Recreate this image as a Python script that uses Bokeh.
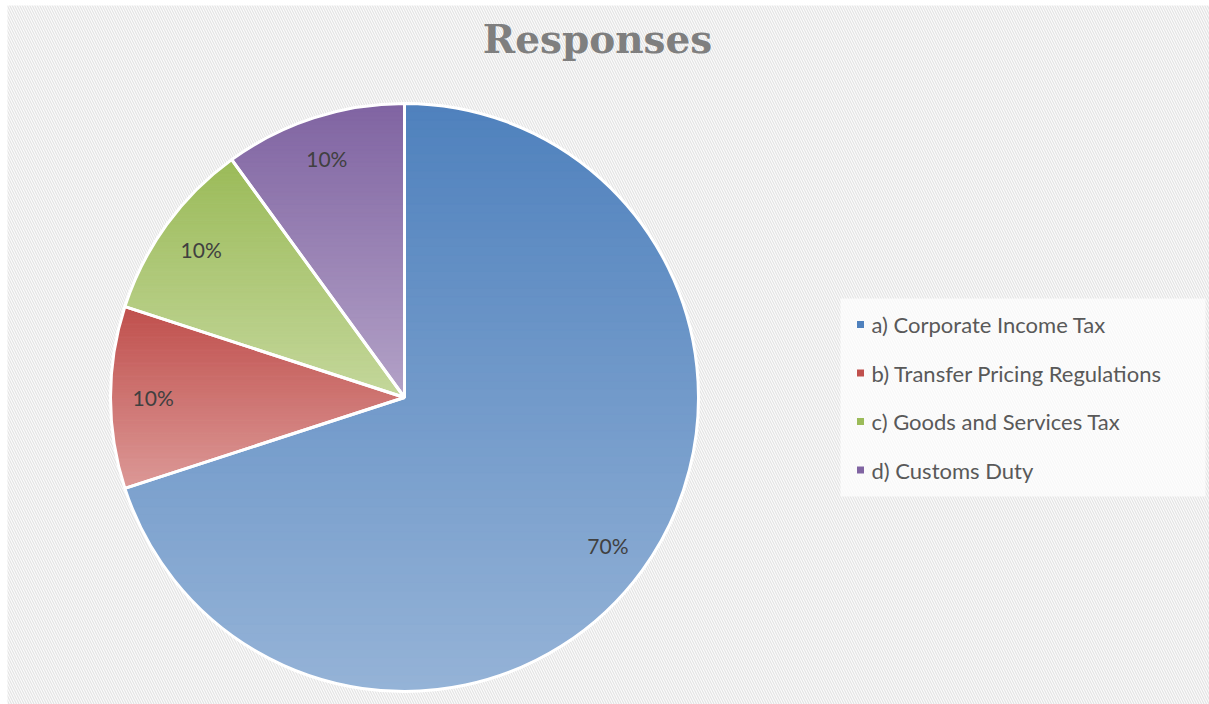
import math
from bokeh.plotting import figure
from bokeh.models import Range1d
from bokeh.core.properties import value
from bokeh.embed import file_html
from bokeh.resources import INLINE

# ---- data ----
categories = ["a) Corporate Income Tax", "b) Transfer Pricing Regulations",
              "c) Goods and Services Tax", "d) Customs Duty"]
shares = [70, 10, 10, 10]
pct_labels = ["70%", "10%", "10%", "10%"]
title_text = "Responses"

# ---- styles ----
top_colors = ["#4f81bd", "#c0504d", "#9bbb59", "#8064a2"]
bot_colors = ["#95b3d7", "#dc9997", "#c4d79b", "#b3a2c7"]
legend_colors = ["#4f81bd", "#c0504d", "#9bbb59", "#8064a2"]

W, H = 1209, 704
p = figure(width=W, height=H, output_backend="svg", toolbar_location=None,
           x_range=Range1d(0, W), y_range=Range1d(0, H), min_border=0)
p.axis.visible = False
p.grid.visible = False
p.outline_line_color = None
p.background_fill_color = "white"
p.border_fill_color = "white"

# hatched chart area
p.quad(left=[7], right=[W], top=[H - 5], bottom=[0], fill_color="#fbfbfb",
       line_color=None, hatch_pattern="left_diagonal_line", hatch_color="#e3e3e3",
       hatch_scale=5, hatch_weight=1.1)

cx, cy, R = 404, H - 397, 294


def hex2rgb(h):
    h = h.lstrip("#")
    return tuple(int(h[i:i + 2], 16) for i in (0, 2, 4))


def mix(c1, c2, t):
    a, b = hex2rgb(c1), hex2rgb(c2)
    return "#%02x%02x%02x" % tuple(int(round(a[i] + (b[i] - a[i]) * t)) for i in range(3))


def clip_poly(poly, y0, y1):
    def clip(pts, keep, inter):
        out = []
        n = len(pts)
        for i in range(n):
            cur, prv = pts[i], pts[i - 1]
            if keep(cur):
                if not keep(prv):
                    out.append(inter(prv, cur))
                out.append(cur)
            elif keep(prv):
                out.append(inter(prv, cur))
        return out

    def ix(yc):
        def f(a, b):
            t = (yc - a[1]) / (b[1] - a[1])
            return (a[0] + t * (b[0] - a[0]), yc)
        return f
    pts = clip(poly, lambda q: q[1] >= y0, ix(y0))
    if not pts:
        return pts
    pts = clip(pts, lambda q: q[1] <= y1, ix(y1))
    return pts


total = sum(shares)
cum = 0
starts, ends = [], []
for i, v in enumerate(shares):
    a0 = 90 - 360 * cum / total
    cum += v
    a1 = 90 - 360 * cum / total
    starts.append(math.radians(a0))
    ends.append(math.radians(a1))
    npts = max(8, int(abs(a1 - a0) * 2))
    poly = [(cx, cy)] + [(cx + R * math.cos(math.radians(a0 + (a1 - a0) * k / npts)),
                          cy + R * math.sin(math.radians(a0 + (a1 - a0) * k / npts)))
                         for k in range(npts + 1)]
    ymin = min(q[1] for q in poly)
    ymax = max(q[1] for q in poly)
    nb = 70
    xs, ys, cols = [], [], []
    for b in range(nb):
        y0 = ymin + (ymax - ymin) * b / nb
        y1 = ymin + (ymax - ymin) * (b + 1) / nb + 0.6
        pts = clip_poly(poly, y0, y1)
        if len(pts) < 3:
            continue
        t = 1 - (b + 0.5) / nb  # 0 at top, 1 at bottom
        xs.append([q[0] for q in pts])
        ys.append([q[1] for q in pts])
        cols.append(mix(top_colors[i], bot_colors[i], t))
    p.patches(xs=xs, ys=ys, fill_color=cols, line_color=cols, line_width=0.6)

# white slice borders
p.wedge(x=[cx] * len(shares), y=[cy] * len(shares), radius=R, start_angle=starts,
        end_angle=ends, direction="clock", fill_alpha=0, line_color="white",
        line_width=3)

# percentage labels
lx, ly = [], []
for s, e in zip(starts, ends):
    m = (s + e) / 2
    lx.append(cx + 0.855 * R * math.cos(m))
    ly.append(cy + 0.855 * R * math.sin(m))
p.text(x=lx, y=ly, text=pct_labels, text_font=value("Lato"), text_font_size="21px",
       text_color="#404040", text_align="center", text_baseline="middle")

# title
p.text(x=[597], y=[H - 38], text=[title_text], text_font=value("DejaVu Serif"),
       text_font_size="39px", text_font_style="bold", text_color="#7f7f7f",
       text_align="center", text_baseline="middle")

# legend
p.quad(left=[840], right=[1205], top=[H - 298], bottom=[H - 496], fill_color="white",
       fill_alpha=0.7, line_color=None)
leg_y = [H - 324 - 48.5 * k for k in range(len(categories))]
p.scatter(x=[860] * len(categories), y=leg_y, marker="square", size=7,
          fill_color=legend_colors, line_color=None)
p.text(x=[871] * len(categories), y=leg_y, text=categories, text_font=value("Lato"),
       text_font_size="22px", text_color="#595959", text_align="left",
       text_baseline="middle")

open("out.html", "w").write(file_html(p, INLINE))
